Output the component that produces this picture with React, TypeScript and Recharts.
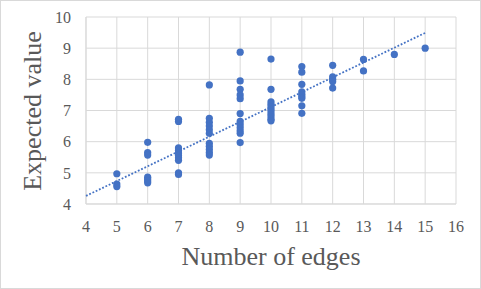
import React from 'react';
import { ScatterChart, Scatter, XAxis, YAxis, CartesianGrid, Label } from 'recharts';

const xTicks = [4, 5, 6, 7, 8, 9, 10, 11, 12, 13, 14, 15, 16];
const yTicks = [4, 5, 6, 7, 8, 9, 10];

const valuesAt5 = [4.97, 4.64, 4.56];
const valuesAt6 = [5.98, 5.65, 5.57, 4.86, 4.8, 4.74, 4.68];
const valuesAt7 = [6.72, 6.65, 5.8, 5.72, 5.64, 5.56, 5.48, 5.4, 5.0, 4.95];
const valuesAt8 = [7.82, 6.75, 6.62, 6.5, 6.38, 6.27, 5.95, 5.85, 5.75, 5.65, 5.57];
const valuesAt9 = [8.87, 7.95, 7.68, 7.5, 7.38, 6.9, 6.65, 6.55, 6.45, 6.35, 6.27, 5.97];
const valuesAt10 = [8.65, 7.68, 7.28, 7.2, 7.12, 7.04, 6.96, 6.88, 6.8, 6.72, 6.67];
const valuesAt11 = [8.41, 8.23, 7.84, 7.6, 7.52, 7.45, 7.39, 7.15, 6.91];
const valuesAt12 = [8.45, 8.08, 8.0, 7.93, 7.72];
const valuesAt13 = [8.64, 8.27];
const valuesAt14 = [8.8];
const valuesAt15 = [9.0];

const groups: [number, number[]][] = [
  [5, valuesAt5], [6, valuesAt6], [7, valuesAt7], [8, valuesAt8], [9, valuesAt9],
  [10, valuesAt10], [11, valuesAt11], [12, valuesAt12], [13, valuesAt13],
  [14, valuesAt14], [15, valuesAt15],
];

const points = groups.flatMap(([x, vals]) => vals.map((y) => ({ x, y })));

const trendX = [4, 15];
const trendY = [4.26, 9.49];
const trend = trendX.map((x, i) => ({ x, y: trendY[i] }));

const FONT = 'Liberation Serif';
const TEXT = '#595959';
const GRID = '#d9d9d9';
const BLUE = '#4472c4';

const Dot = (props: any) => <circle cx={props.cx} cy={props.cy} r={3.6} fill={BLUE} />;
const NoDot = () => <g />;

export default function App() {
  return (
    <div style={{ position: 'fixed', left: 0, top: 0, width: 481, height: 289, background: '#fff', fontFamily: FONT }}>
      <ScatterChart
        width={481}
        height={289}
        margin={{ top: 17, right: 25, bottom: 25, left: 0 }}
        style={{ fontFamily: FONT }}
      >
        <CartesianGrid stroke={GRID} strokeWidth={1} />
        <XAxis
          type="number"
          dataKey="x"
          domain={[4, 16]}
          ticks={xTicks}
          interval={0}
          height={60}
          axisLine={{ stroke: GRID }}
          tickLine={false}
          tickSize={0}
          tickMargin={17}
          fontFamily={FONT}
          fontSize={16}
          tick={{ fill: TEXT, fontSize: 16, fontFamily: FONT }}
        >
          <Label
            content={() => (
              <text x={271} y={265} textAnchor="middle" fill={TEXT} fontSize={26} fontFamily={FONT}>
                Number of edges
              </text>
            )}
          />
        </XAxis>
        <YAxis
          type="number"
          dataKey="y"
          domain={[4, 10]}
          ticks={yTicks}
          interval={0}
          width={86}
          axisLine={{ stroke: GRID }}
          tickLine={false}
          tickSize={0}
          tickMargin={15}
          fontFamily={FONT}
          fontSize={16}
          tick={{ fill: TEXT, fontSize: 16, fontFamily: FONT }}
        >
          <Label
            content={() => (
              <text
                transform="translate(41,111) rotate(-90)"
                x={0}
                y={0}
                textAnchor="middle"
                fill={TEXT}
                fontSize={26}
                fontFamily={FONT}
              >
                Expected value
              </text>
            )}
          />
        </YAxis>
        <Scatter
          data={trend}
          line={{ stroke: BLUE, strokeWidth: 1.8, strokeDasharray: '1.8 1.8' }}
          shape={NoDot}
          isAnimationActive={false}
        />
        <Scatter data={points} shape={Dot} isAnimationActive={false} />
      </ScatterChart>
      <div
        style={{
          position: 'absolute', left: 0, top: 0, width: 481, height: 289,
          boxSizing: 'border-box', border: `1px solid ${GRID}`, pointerEvents: 'none',
        }}
      />
    </div>
  );
}
